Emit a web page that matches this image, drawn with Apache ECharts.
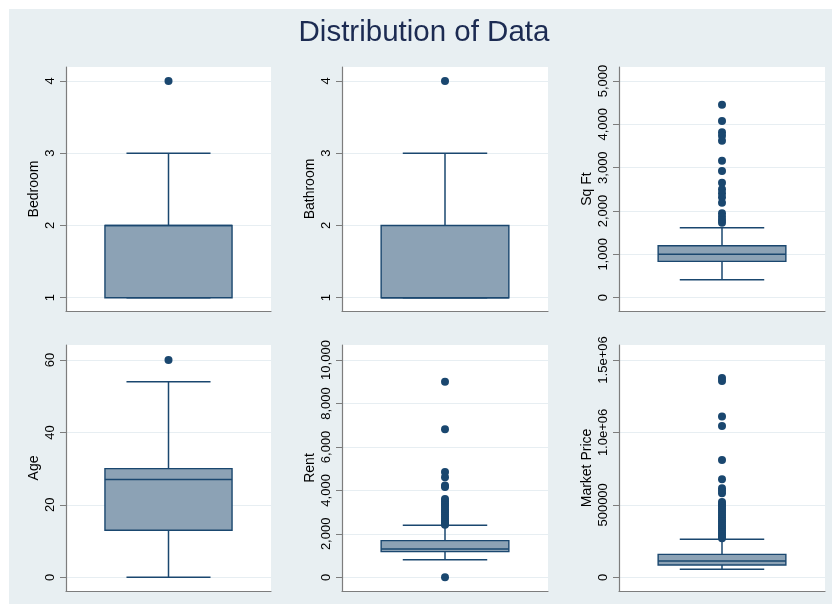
<!DOCTYPE html>
<html>
<head>
<meta charset="utf-8">
<title>Distribution of Data</title>
<script src="https://cdn.jsdelivr.net/npm/echarts@6/dist/echarts.min.js"></script>
<style>
  html, body { margin: 0; padding: 0; background: #ffffff; }
  #chart { width: 832px; height: 604px; }
</style>
</head>
<body>
<div id="chart"></div>
<script>
// Variables shown, one box plot per panel
const variables = ['Bedroom', 'Bathroom', 'Sq Ft', 'Age', 'Rent', 'Market Price'];

// Box statistics: [lower whisker, Q1, median, Q3, upper whisker]
const bedroomStats = [1, 1, 2, 2, 3];
const bathroomStats = [1, 1, 1, 2, 3];
const sqftStats = [415, 838, 1000, 1200, 1615];
const ageStats = [0, 13, 27, 30, 54];
const rentStats = [813, 1181, 1300, 1687, 2390];
const priceStats = [55000, 85000, 113000, 158000, 262000];

// Points beyond the whiskers
const bedroomOutliers = [4];
const bathroomOutliers = [4];
const sqftOutliers = [4454, 4078, 3817, 3739, 3623, 3162, 2924, 2654, 2500, 2408, 2316, 2192,
  1947, 1870, 1793, 1731];
const ageOutliers = [60];
const rentOutliers = [9000, 6810, 4850, 4600, 4230, 4150, 3600, 3500, 3400, 3300, 3200, 3100,
  3000, 2900, 2800, 2700, 2600, 2520, 2450, 2420, 0];
const priceOutliers = [1375000, 1355000, 1110000, 1045000, 809000, 676000, 614000, 598000, 580000,
  520000, 505000, 490000, 475000, 460000, 445000, 430000, 415000, 400000, 385000, 370000,
  355000, 340000, 325000, 310000, 295000, 280000, 270000];

// Y-axis tick values and their labels
const bedroomTicks = [1, 2, 3, 4];
const bedroomTickLabels = ['1', '2', '3', '4'];
const bathroomTicks = [1, 2, 3, 4];
const bathroomTickLabels = ['1', '2', '3', '4'];
const sqftTicks = [0, 1000, 2000, 3000, 4000, 5000];
const sqftTickLabels = ['0', '1,000', '2,000', '3,000', '4,000', '5,000'];
const ageTicks = [0, 20, 40, 60];
const ageTickLabels = ['0', '20', '40', '60'];
const rentTicks = [0, 2000, 4000, 6000, 8000, 10000];
const rentTickLabels = ['0', '2,000', '4,000', '6,000', '8,000', '10,000'];
const priceTicks = [0, 500000, 1000000, 1500000];
const priceTickLabels = ['0', '500000', '1.0e+06', '1.5e+06'];

const panels = [
  { stats: bedroomStats, outliers: bedroomOutliers, ticks: bedroomTicks, labels: bedroomTickLabels },
  { stats: bathroomStats, outliers: bathroomOutliers, ticks: bathroomTicks, labels: bathroomTickLabels },
  { stats: sqftStats, outliers: sqftOutliers, ticks: sqftTicks, labels: sqftTickLabels },
  { stats: ageStats, outliers: ageOutliers, ticks: ageTicks, labels: ageTickLabels },
  { stats: rentStats, outliers: rentOutliers, ticks: rentTicks, labels: rentTickLabels },
  { stats: priceStats, outliers: priceOutliers, ticks: priceTicks, labels: priceTickLabels }
];

// Panel layout (pixels)
const colLeft = [66, 342, 619];
const colWidth = [205, 206, 206];
const rowTop = [67, 345];
const rowHeight = [244, 246];
// Share of the tick span left empty above / below the outer ticks
const padTop = [0.0646, 0.069];
const padBottom = [0.0614, 0.063];

const NAVY = '#1a476f';
const BOX_FILL = '#8ca2b5';
const AXIS_GREY = '#7d7d7d';
const FONT = '"Liberation Sans", Arial, Helvetica, sans-serif';

const grids = [], xAxes = [], yAxes = [], series = [];

panels.forEach((p, i) => {
  const row = Math.floor(i / 3), col = i % 3;
  const lo = p.ticks[0], hi = p.ticks[p.ticks.length - 1];
  const span = hi - lo;

  grids.push({
    left: colLeft[col], top: rowTop[row], width: colWidth[col], height: rowHeight[row],
    show: true, backgroundColor: '#ffffff', borderWidth: 0
  });

  xAxes.push({
    gridIndex: i, type: 'value', min: -1, max: 1,
    axisLine: { show: true, onZero: false, lineStyle: { color: AXIS_GREY, width: 1.2 } },
    axisTick: { show: false }, axisLabel: { show: false }, splitLine: { show: false }
  });

  yAxes.push({
    gridIndex: i, type: 'value',
    min: lo - span * padBottom[row], max: hi + span * padTop[row],
    name: variables[i], nameLocation: 'middle', nameGap: 25, nameRotate: 90,
    nameTextStyle: { fontSize: 14, color: '#000', fontFamily: FONT },
    axisLine: { show: true, onZero: false, lineStyle: { color: AXIS_GREY, width: 1.2 } },
    axisTick: { show: true, length: 6, customValues: p.ticks, lineStyle: { color: AXIS_GREY, width: 1 } },
    axisLabel: {
      customValues: p.ticks, rotate: 90, margin: 9, fontSize: 13, color: '#000', fontFamily: FONT,
      formatter: v => {
        const k = p.ticks.indexOf(v);
        return k >= 0 ? p.labels[k] : '';
      }
    },
    splitLine: { show: true, lineStyle: { color: '#e7eef2', width: 1.2 } }
  });

  // Box, median, whiskers and caps
  series.push({
    type: 'custom', xAxisIndex: i, yAxisIndex: i,
    data: [[0].concat(p.stats)],
    encode: { x: 0, y: [1, 2, 3, 4, 5] },
    renderItem: (params, api) => {
      const wLo = api.value(1), q1 = api.value(2), med = api.value(3), q3 = api.value(4), wHi = api.value(5);
      const boxHalf = 0.62, capHalf = 0.41;
      const c = api.coord([0, med]);
      const tl = api.coord([-boxHalf, q3]);
      const br = api.coord([boxHalf, q1]);
      const mL = api.coord([-boxHalf, med]), mR = api.coord([boxHalf, med]);
      const pHi = api.coord([0, wHi]), pQ3 = api.coord([0, q3]);
      const pLo = api.coord([0, wLo]), pQ1 = api.coord([0, q1]);
      const capL = api.coord([-capHalf, 0])[0], capR = api.coord([capHalf, 0])[0];
      const lineStyle = { stroke: NAVY, lineWidth: 1.5 };
      return {
        type: 'group',
        children: [
          { type: 'line', shape: { x1: c[0], y1: pQ3[1], x2: c[0], y2: pHi[1] }, style: lineStyle },
          { type: 'line', shape: { x1: c[0], y1: pQ1[1], x2: c[0], y2: pLo[1] }, style: lineStyle },
          { type: 'line', shape: { x1: capL, y1: pHi[1], x2: capR, y2: pHi[1] }, style: lineStyle },
          { type: 'line', shape: { x1: capL, y1: pLo[1], x2: capR, y2: pLo[1] }, style: lineStyle },
          { type: 'rect', shape: { x: tl[0], y: tl[1], width: br[0] - tl[0], height: br[1] - tl[1] },
            style: { fill: BOX_FILL, stroke: NAVY, lineWidth: 1.4 } },
          { type: 'line', shape: { x1: mL[0], y1: mL[1], x2: mR[0], y2: mR[1] }, style: lineStyle }
        ]
      };
    },
    silent: true, z: 2
  });

  // Outlying observations
  series.push({
    type: 'scatter', xAxisIndex: i, yAxisIndex: i,
    data: p.outliers.map(v => [0, v]),
    symbol: 'circle', symbolSize: 8,
    itemStyle: { color: NAVY, opacity: 1 },
    silent: true, z: 3
  });
});

const chart = echarts.init(document.getElementById('chart'), null, { renderer: 'canvas' });
chart.setOption({
  backgroundColor: '#ffffff',
  animation: false,
  graphic: [
    { type: 'rect', shape: { x: 9, y: 9, width: 832, height: 604 }, style: { fill: '#e8eff2' }, z: -10, silent: true },
    { type: 'text', x: 424, y: 33, style: {
        text: 'Distribution of Data', fill: '#1c2b52', fontSize: 29.5, fontFamily: FONT,
        align: 'center', verticalAlign: 'middle' }, silent: true }
  ],
  grid: grids,
  xAxis: xAxes,
  yAxis: yAxes,
  series: series
});
</script>
</body>
</html>
